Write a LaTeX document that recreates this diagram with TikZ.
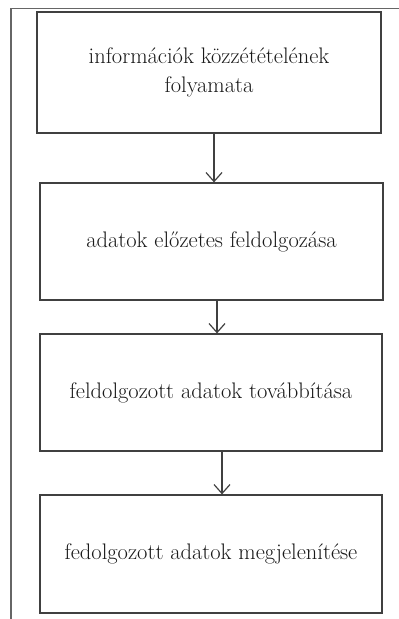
\documentclass[tikz,border=0pt]{standalone}
\usetikzlibrary{arrows.meta}

\begin{document}
\begin{tikzpicture}[
        x=1pt, y=-1pt,
        lap/.style={draw=black!75, line width=1.2pt, text=black!90,
            font=\fontsize{22.5}{29}\selectfont, align=center,
            minimum width=342pt, minimum height=117pt, inner sep=0pt},
        nyil/.style={draw=black!75, line width=1.2pt,
            -{Straight Barb[length=9pt,width=16pt,line width=1.2pt]}},
        keret/.style={draw=black!60, line width=1.6pt}
    ]
    \useasboundingbox (0,0) rectangle (399,619);

    \coordinate (bal) at (11,619);
    \coordinate (sarok) at (11,8.5);
    \coordinate (jobb) at (399,8.5);
    \draw[keret] (bal) -- (sarok) -- (jobb);

    \node[lap, minimum width=344pt, minimum height=121pt] (b1) at (209,72.5)
        {információk közzétételének\\folyamata};
    \node[lap, minimum width=343pt] (b2) at (211.5,241.5)
        {adatok előzetes feldolgozása};
    \node[lap] (b3) at (211,392.5) {feldolgozott adatok továbbítása};
    \node[lap, minimum height=118pt] (b4) at (211,554)
        {fedolgozott adatok megjelenítése};

    \draw[nyil] ([xshift=5pt]b1.south) -- ([xshift=2.5pt]b2.north);
    \draw[nyil] ([xshift=5.5pt]b2.south) -- ([xshift=6pt]b3.north);
    \draw[nyil] ([xshift=11pt]b3.south) -- ([xshift=11pt]b4.north);
\end{tikzpicture}
\end{document}
